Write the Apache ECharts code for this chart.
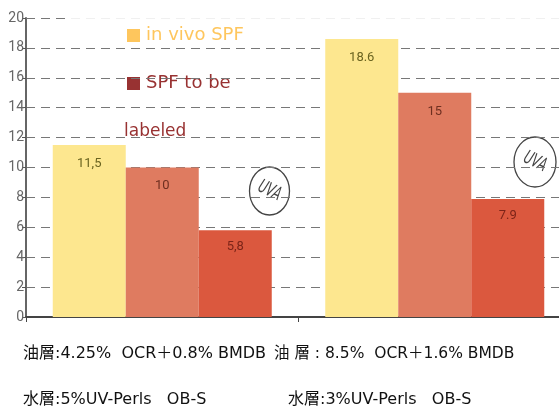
<!DOCTYPE html>
<html>
<head>
<meta charset="utf-8">
<style>html,body{margin:0;padding:0;background:#fff}#chart{width:559px;height:410px}</style>
<script src="https://cdn.jsdelivr.net/npm/echarts@6/dist/echarts.min.js"></script>
</head>
<body>
<div id="chart"></div>
<script>
var categories = ['a', 'b'];
var inVivo = [11.5, 18.6];
var toBeLabeled = [10, 15];
var third = [5.8, 7.9];
var inVivoLabels = ['11,5', '18.6'];
var toBeLabeledLabels = ['10', '15'];
var thirdLabels = ['5,8', '7.9'];
var yTicks = [0, 2, 4, 6, 8, 10, 12, 14, 16, 18, 20];
var legendVivo = 'in vivo SPF';
var legendLabel1 = 'SPF to be';
var legendLabel2 = 'labeled';
var caption1 = '油層:4.25%  OCR＋0.8% BMDB';
var caption2 = '油 層 : 8.5%  OCR＋1.6% BMDB';
var caption3 = '水層:5%UV-Perls   OB-S';
var caption4 = '水層:3%UV-Perls   OB-S';

var narrow = 'Roboto,sans-serif';
var jp = '"DejaVu Sans","Noto Sans CJK JP",sans-serif';

function barSeries(name, data, labels, color, labelColor, dist) {
	return {
		name: name,
		type: 'bar',
		data: data,
		barWidth: 73,
		barGap: 0,
		itemStyle: { color: color },
		label: {
			show: true,
			position: 'insideTop',
			distance: dist,
			color: labelColor,
			fontFamily: narrow,
			fontSize: 13,
			formatter: function (p) { return labels[p.dataIndex]; }
		}
	};
}

function text(x, y, str, color, size) {
	return { type: 'text', x: x, y: y, style: { text: str, fill: color, font: size + 'px ' + jp } };
}

function uva(cx, cy, rx, ry, angle) {
	return {
		type: 'group', x: cx, y: cy,
		children: [
			{ type: 'ellipse', shape: { cx: 0, cy: 0, rx: rx, ry: ry }, style: { fill: '#fff', stroke: '#444', lineWidth: 1.3 } },
			{ type: 'text', rotation: angle, scaleX: 0.8, scaleY: 1.2, style: { text: 'UVA', x: 0, y: 0, align: 'center', verticalAlign: 'middle', fill: '#444', font: 'italic 16px ' + narrow } }
		]
	};
}

var chart = echarts.init(document.getElementById('chart'));
var series = [
	barSeries('in vivo SPF', inVivo, inVivoLabels, '#fde78f', '#6b6420', 12),
	barSeries('SPF to be labeled', toBeLabeled, toBeLabeledLabels, '#df7b60', '#6e2f20', 12),
	barSeries('third', third, thirdLabels, '#db583e', '#7c2418', 10)
];
series[0].markLine = {
	silent: true, symbol: 'none', label: { show: false },
	lineStyle: { color: '#777', type: [9, 6], width: 1 },
	data: [[{ x: 26, yAxis: 20 }, { x: 68, yAxis: 20 }]]
};
chart.setOption({
	animation: false,
	grid: { left: 26, width: 545, top: 18, height: 299, outerBoundsMode: 'none' },
	xAxis: {
		type: 'category',
		data: categories,
		axisLine: { lineStyle: { color: '#444', width: 2 } },
		axisTick: { show: true, length: 5, lineStyle: { color: '#444' } },
		axisLabel: { show: false }
	},
	yAxis: {
		type: 'value',
		min: yTicks[0],
		max: yTicks[yTicks.length - 1],
		interval: 2,
		axisLine: { show: true, lineStyle: { color: '#666', width: 2 } },
		axisTick: { show: true, length: 4, lineStyle: { color: '#555' } },
		axisLabel: { color: '#666', fontFamily: narrow, fontSize: 14, margin: 2 },
		splitLine: {
			show: true,
			lineStyle: {
				color: ['#777', '#777', '#777', '#777', '#777', '#777', '#777', '#777', '#777', '#777', '#f0f0f0'],
				type: [9, 6],
				width: 1
			}
		}
	},
	series: series,
	graphic: [
		{ type: 'rect', shape: { x: 127, y: 29, width: 13, height: 13 }, style: { fill: '#fec65d' } },
		text(146, 26, legendVivo, '#fec65d', 18),
		{ type: 'rect', shape: { x: 127, y: 77, width: 13, height: 13 }, style: { fill: '#983232' } },
		text(146, 74, legendLabel1, '#983232', 18),
		text(124, 123, legendLabel2, '#983232', 17),
		uva(269.5, 191, 20, 24, -0.45),
		uva(535, 162, 21, 25, -0.45),
		text(23, 346, caption1, '#111', 16),
		text(274, 346, caption2, '#111', 15.5),
		text(23, 392, caption3, '#111', 16),
		text(288, 392, caption4, '#111', 16)
	]
});
</script>
</body>
</html>
